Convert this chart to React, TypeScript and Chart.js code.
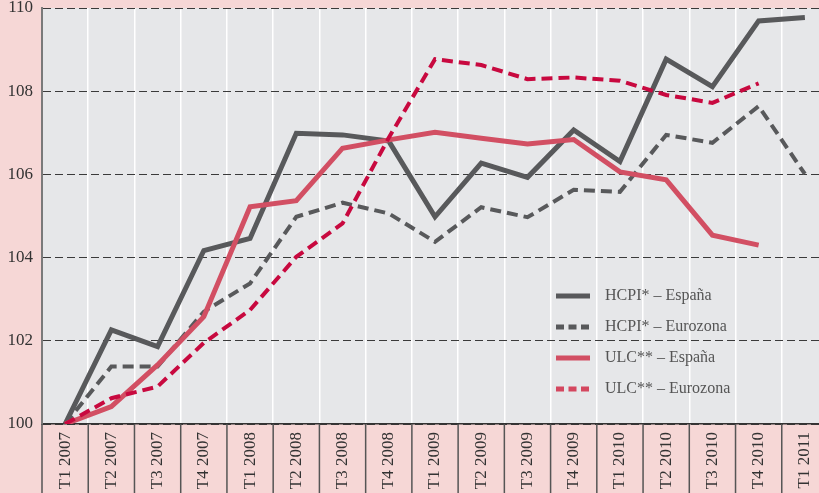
import React, { useEffect, useRef } from "react";
import { Chart, registerables } from "chart.js";

Chart.register(...registerables);

const categories = [
  "T1 2007", "T2 2007", "T3 2007", "T4 2007",
  "T1 2008", "T2 2008", "T3 2008", "T4 2008",
  "T1 2009", "T2 2009", "T3 2009", "T4 2009",
  "T1 2010", "T2 2010", "T3 2010", "T4 2010",
  "T1 2011",
];

const hcpiEspana = [100, 102.26, 101.86, 104.17, 104.46, 106.99, 106.95, 106.8, 104.98, 106.27, 105.93, 107.07, 106.31, 108.77, 108.11, 109.69, 109.77];
const hcpiEurozona = [100, 101.38, 101.38, 102.7, 103.38, 104.98, 105.32, 105.06, 104.38, 105.21, 104.97, 105.63, 105.58, 106.95, 106.76, 107.64, 106.01];
const ulcEspana = [100, 100.42, 101.42, 102.58, 105.22, 105.37, 106.63, 106.83, 107.01, 106.87, 106.73, 106.84, 106.06, 105.87, 104.54, 104.3, null];
const ulcEurozona = [100, 100.62, 100.9, 101.95, 102.74, 104.02, 104.82, 106.88, 108.77, 108.63, 108.29, 108.33, 108.25, 107.91, 107.72, 108.19, null];

const seriesLabels = ["HCPI* – España", "HCPI* – Eurozona", "ULC** – España", "ULC** – Eurozona"];
const yMin = 100;
const yMax = 110;
const yStep = 2;

const PINK = "#f6d7d6";
const PLOT = "#e6e7e9";
const GRAY = "#58595b";
const RED = "#d24f63";
const CRIMSON = "#c8093f";
const FONT = "'Liberation Serif', 'Times New Roman', serif";

const backgroundPlugin = {
  id: "bgPlugin",
  beforeDraw(chart: any) {
    const { ctx, chartArea } = chart;
    ctx.save();
    ctx.fillStyle = PINK;
    ctx.fillRect(0, 0, chart.width, chart.height);
    ctx.fillStyle = PLOT;
    ctx.fillRect(chartArea.left, chartArea.top, chartArea.right - chartArea.left, chartArea.bottom - chartArea.top);
    ctx.restore();
  },
};

const dividerPlugin = {
  id: "dividerPlugin",
  afterDraw(chart: any) {
    const { ctx, chartArea } = chart;
    const xs = chart.scales.x;
    const n = categories.length;
    const step = xs.getPixelForValue(1) - xs.getPixelForValue(0);
    ctx.save();
    ctx.strokeStyle = "#555";
    ctx.lineWidth = 1.5;
    for (let i = 0; i <= n; i++) {
      const x = xs.getPixelForValue(i) - step / 2;
      ctx.beginPath();
      ctx.moveTo(x, chartArea.bottom);
      ctx.lineTo(x, chart.height);
      ctx.stroke();
    }
    ctx.restore();
  },
};

const legendPlugin = {
  id: "customLegend",
  afterDatasetsDraw(chart: any) {
    const { ctx } = chart;
    const sx0 = 556;
    const sx1 = 590;
    const tx = 605;
    const y0 = 296;
    const dy = 31;
    ctx.save();
    chart.data.datasets.forEach((ds: any, i: number) => {
      const y = y0 + i * dy;
      ctx.beginPath();
      ctx.strokeStyle = ds.legendColor || ds.borderColor;
      ctx.lineWidth = 5;
      ctx.setLineDash(ds.borderDash && ds.borderDash.length ? [8, 4.5] : []);
      ctx.moveTo(sx0, y);
      ctx.lineTo(sx1, y);
      ctx.stroke();
      ctx.setLineDash([]);
      ctx.fillStyle = "#555";
      ctx.font = `16px ${FONT}`;
      ctx.textBaseline = "middle";
      ctx.textAlign = "left";
      ctx.fillText(seriesLabels[i], tx, y);
    });
    ctx.restore();
  },
};

export default function App() {
  const ref = useRef<HTMLCanvasElement | null>(null);

  useEffect(() => {
    if (!ref.current) return;
    const chart = new Chart(ref.current, {
      type: "line",
      data: {
        labels: categories,
        datasets: [
          {
            label: seriesLabels[0],
            data: hcpiEspana,
            borderColor: GRAY,
            borderWidth: 5,
            borderJoinStyle: "miter",
            pointRadius: 0,
            tension: 0,
            order: 4,
          },
          {
            label: seriesLabels[1],
            data: hcpiEurozona,
            borderColor: GRAY,
            borderWidth: 4,
            borderDash: [11, 6],
            borderJoinStyle: "miter",
            pointRadius: 0,
            tension: 0,
            order: 3,
          },
          {
            label: seriesLabels[2],
            data: ulcEspana,
            borderColor: RED,
            borderWidth: 5,
            borderJoinStyle: "miter",
            pointRadius: 0,
            tension: 0,
            order: 2,
          },
          {
            label: seriesLabels[3],
            data: ulcEurozona,
            borderColor: CRIMSON,
            legendColor: "#d4475f",
            borderWidth: 4,
            borderDash: [11, 6],
            borderJoinStyle: "miter",
            pointRadius: 0,
            tension: 0,
            order: 1,
          } as any,
        ],
      },
      options: {
        animation: false,
        responsive: false,
        maintainAspectRatio: false,
        devicePixelRatio: 1,
        layout: { padding: { top: 0, right: 0, left: 0, bottom: 0 } },
        plugins: {
          legend: { display: false },
          tooltip: { enabled: false },
        },
        scales: {
          x: {
            offset: true,
            grid: {
              offset: true,
              color: "#ffffff",
              lineWidth: 1.5,
              drawTicks: false,
            },
            border: { display: true, color: "#333", width: 1.5 },
            ticks: {
              autoSkip: false,
              maxRotation: 90,
              minRotation: 90,
              padding: 8,
              color: "#333",
              font: { family: FONT, size: 17, lineHeight: 1 },
            },
            afterFit(scale: any) {
              scale.height = 69;
              scale.paddingLeft = 0;
              scale.paddingRight = 0;
            },
          },
          y: {
            min: yMin,
            max: yMax,
            grid: {
              color: "#3a3a3a",
              lineWidth: 1,
              drawTicks: false,
            },
            border: { display: true, color: "#7a7a7a", width: 2, dash: [8, 4] },
            ticks: {
              stepSize: yStep,
              padding: 9,
              color: "#333",
              font: { family: FONT, size: 17, lineHeight: 1 },
            },
            afterFit(scale: any) {
              scale.width = 42;
              scale.paddingTop = 8;
              scale.paddingBottom = 0;
            },
          },
        },
      },
      plugins: [backgroundPlugin, dividerPlugin, legendPlugin],
    });
    return () => chart.destroy();
  }, []);

  return (
    <div
      style={{
        position: "fixed",
        left: 0,
        top: 0,
        width: 819,
        height: 493,
        overflow: "hidden",
        background: PINK,
      }}
    >
      <canvas ref={ref} width={828} height={493} style={{ display: "block", width: 828, height: 493 }} />
    </div>
  );
}
